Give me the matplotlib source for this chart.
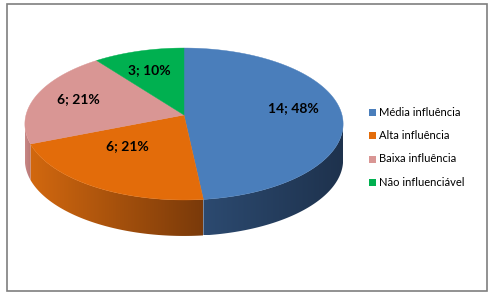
import numpy as np
import matplotlib
matplotlib.use("Agg")
import matplotlib.pyplot as plt
from matplotlib.patches import Polygon, Rectangle
from matplotlib.colors import LinearSegmentedColormap

categories = ["Média influência", "Alta influência", "Baixa influência", "Não influenciável"]
values = [14, 6, 6, 3]
top_colors = ["#4A7EBB", "#E36C0A", "#D99694", "#00B050"]
side_colors = [("#2C4A70", "#1E324D"), ("#D2680F", "#7A3A0A"), ("#C98886", "#B87775"), ("#009040", "#007030")]

W, H = 494, 298
fig = plt.figure(figsize=(W / 100, H / 100), dpi=100)
ax = fig.add_axes([0, 0, 1, 1])
ax.set_xlim(0, W)
ax.set_ylim(H, 0)
ax.axis("off")

# geometry (pixel layout), simple perspective projection of a tilted disc
cx, cy = 184, 115
A, B = 158, 74.9
k = 0.1184
depth = 36


def pt(phi_deg, f=1.0):
    t = np.radians(phi_deg)
    u, v = f * np.cos(t), f * np.sin(t)
    d = 1 + k * v
    return cx + A * u / d, cy - B * v / d


total = sum(values)
angles = []
start = 90.0
for v in values:
    sweep = 360.0 * v / total
    angles.append((start, start - sweep))
    start -= sweep

vis_lo = 180 + np.degrees(np.arcsin(k))
vis_hi = 360 - np.degrees(np.arcsin(k))

# side faces
for (a0, a1), (c_light, c_dark) in zip(angles, side_colors):
    lo, hi = min(a0, a1), max(a0, a1)
    segs = []
    for off in (0, 360, -360):
        l, h = lo + off, hi + off
        l2, h2 = max(l, vis_lo), min(h, vis_hi)
        if h2 > l2:
            segs.append((l2, h2))
    for l2, h2 in segs:
        th = np.linspace(l2, h2, 80)
        x, y = pt(th)
        xs = np.concatenate([x, x[::-1]])
        ys = np.concatenate([y, y[::-1] + depth])
        poly = Polygon(np.column_stack([xs, ys]), closed=True, facecolor="none", edgecolor="none")
        ax.add_patch(poly)
        cmap = LinearSegmentedColormap.from_list("g", [c_light, c_dark])
        grad = np.linspace(0, 1, 256).reshape(1, -1)
        im = ax.imshow(grad, cmap=cmap, extent=[xs.min(), xs.max(), ys.max(), ys.min()],
                       aspect="auto", zorder=1, interpolation="bilinear")
        im.set_clip_path(poly)

# top faces
for (a0, a1), col in zip(angles, top_colors):
    th = np.linspace(a0, a1, 120)
    x, y = pt(th)
    xs = np.concatenate([[cx], x])
    ys = np.concatenate([[cy], y])
    ax.add_patch(Polygon(np.column_stack([xs, ys]), closed=True, facecolor=col,
                         edgecolor=col, linewidth=0.3, zorder=2))

# labels
lab_cy, lab_rx, lab_ry, lab_f = 110, 157, 60, 0.7
for (a0, a1), v in zip(angles, values):
    mid = np.radians((a0 + a1) / 2)
    lx = cx + lab_f * lab_rx * np.cos(mid)
    ly = lab_cy - lab_f * lab_ry * np.sin(mid)
    pct = round(100 * v / total)
    ax.text(lx, ly, f"{v}; {pct}%", ha="center", va="center", fontsize=10,
            fontweight="bold", family=["Lato", "DejaVu Sans"], color="black", zorder=3)

# legend
lx0 = 369
ly0 = 112
dy = 23.5
for i, (cat, col) in enumerate(zip(categories, top_colors)):
    y = ly0 + i * dy
    ax.add_patch(Rectangle((lx0, y - 3.5), 7, 7, facecolor=col, edgecolor="none", zorder=3))
    ax.text(lx0 + 10, y, cat, ha="left", va="center", fontsize=8,
            family=["Lato", "DejaVu Sans"], color="black", zorder=3)

# chart border
ax.add_patch(Rectangle((7, 4), 480, 287, facecolor="none", edgecolor="#7F7F7F",
                       linewidth=1.2, zorder=4))

fig.savefig("out.png", dpi=100)
